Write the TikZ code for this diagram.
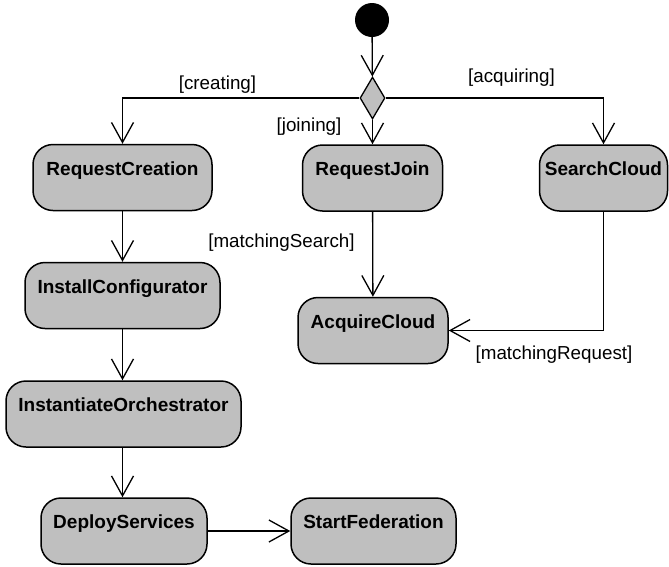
\documentclass[tikz,border=0pt]{standalone}
\usepackage{fontspec}
\setmainfont{Liberation Sans}
\usepackage{tikz}
\usetikzlibrary{arrows.meta, shapes.geometric, positioning, calc}

\tikzset{
    activity/.style={draw, line width=1.5pt, fill=gray!50, rounded corners=20pt,
        minimum height=66pt, inner sep=0pt, text height=14pt, text depth=19pt,
        font=\fontsize{19pt}{22pt}\selectfont\bfseries},
    guard/.style={font=\fontsize{18.8pt}{22pt}\selectfont, inner sep=0pt},
    flow/.style={->, line width=1.3pt}
}

\begin{document}
\begin{tikzpicture}[x=1pt, y=-1pt, >={Straight Barb[length=20pt,width=22pt]}]
\useasboundingbox (0,0) rectangle (669,566);

% start and decision
\node[circle, fill=black, minimum size=34pt, inner sep=0pt] (start) at (372,20) {};
\node[diamond, draw, line width=1.3pt, fill=gray!50, minimum width=25pt, minimum height=42pt, inner sep=0pt] (choice) at (372.5,98) {};

% activities
\node[activity, minimum width=179pt] (creation) at (122.5,177.5) {RequestCreation};
\node[activity, minimum width=140pt] (join) at (372.5,178) {RequestJoin};
\node[activity, minimum width=128pt] (search) at (603.5,178) {SearchCloud};
\node[activity, minimum width=195pt] (install) at (122.5,295.5) {InstallConfigurator};
\node[activity, minimum width=150pt] (acquire) at (373,330.5) {AcquireCloud};
\node[activity, minimum width=235pt] (orchestrator) at (123.5,414) {InstantiateOrchestrator};
\node[activity, minimum width=166pt] (deploy) at (124,531) {DeployServices};
\node[activity, minimum width=165pt] (federation) at (373.5,531) {StartFederation};

% guards
\node[guard] (creating) at (217.5,85) {[creating]};
\node[guard] (acquiring) at (511.5,78) {[acquiring]};
\node[guard] (joining) at (309,127) {[joining]};
\node[guard] (msearch) at (281.5,243) {[matchingSearch]};
\node[guard] (mrequest) at (554,355) {[matchingRequest]};

% flows
\draw[flow] (start) -- (choice);
\draw[flow] (choice) -- (join);
\draw[flow] (choice.west) -| (creation);
\draw[flow] (choice.east) -| (search);
\draw[flow] (creation.south) -- (creation.south |- install.north);
\draw[flow] (install.south) -- (install.south |- orchestrator.north);
\draw[flow] (creation.south |- orchestrator.south) -- (creation.south |- deploy.north);
\draw[flow] (join) -- (acquire);
\draw[flow] (search) |- (acquire);
\draw[flow] (deploy) -- (federation);
\end{tikzpicture}
\end{document}
